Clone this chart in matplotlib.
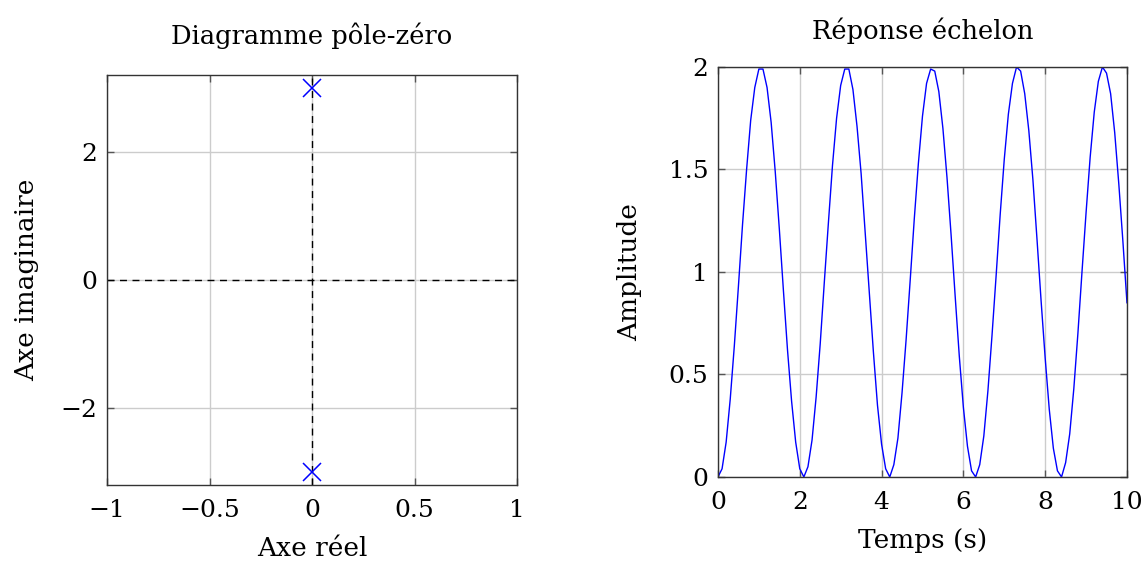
import matplotlib
matplotlib.use("Agg")
import matplotlib.pyplot as plt
import numpy as np

plt.rcParams['font.family'] = ['DejaVu Serif']
plt.rcParams['font.size'] = 18

# poles (real, imag)
pole_re = [0.0, 0.0]
pole_im = [3.0, -3.0]

# step response, every 0.1 s
t = np.arange(0, 101) * 0.1
amp = [0.00, 0.04, 0.17, 0.38, 0.64, 0.93, 1.23, 1.50, 1.74, 1.90,
       1.99, 1.99, 1.90, 1.73, 1.49, 1.21, 0.91, 0.62, 0.37, 0.17,
       0.04, 0.00, 0.05, 0.18, 0.39, 0.65, 0.95, 1.24, 1.52, 1.75,
       1.91, 1.99, 1.99, 1.89, 1.71, 1.48, 1.19, 0.90, 0.61, 0.35,
       0.16, 0.04, 0.00, 0.06, 0.19, 0.41, 0.67, 0.96, 1.26, 1.53,
       1.76, 1.92, 1.99, 1.98, 1.88, 1.70, 1.46, 1.18, 0.88, 0.59,
       0.34, 0.15, 0.03, 0.00, 0.06, 0.20, 0.42, 0.69, 0.98, 1.28,
       1.55, 1.77, 1.92, 2.00, 1.98, 1.87, 1.69, 1.45, 1.16, 0.86,
       0.58, 0.33, 0.14, 0.03, 0.00, 0.07, 0.21, 0.43, 0.70, 1.00,
       1.29, 1.56, 1.78, 1.93, 2.00, 1.97, 1.87, 1.68, 1.43, 1.15,
       0.85]

fig = plt.figure(figsize=(11.46, 5.63), dpi=100)
ax1 = fig.add_axes([0.0934, 0.1385, 0.3578, 0.7282])
ax2 = fig.add_axes([0.6265, 0.1528, 0.3569, 0.7282])

for ax in (ax1, ax2):
    ax.grid(True, color='#cccccc', lw=1)
    ax.set_axisbelow(True)
    ax.tick_params(direction='in', length=5, width=1, color='#555555',
                   top=True, right=True, pad=7, labelsize=18)
    ax.tick_params(axis='x', pad=10)
    for s in ax.spines.values():
        s.set_color('#333333')
        s.set_linewidth(1)

# pole-zero map
ax1.axhline(0, color='black', ls='--', lw=1, dashes=(5, 4))
ax1.axvline(0, color='black', ls='--', lw=1, dashes=(5, 4))
ax1.plot(pole_re, pole_im, 'x', color='blue', ms=13, mew=1.1)
ax1.set_xlim(-1, 1)
ax1.set_ylim(-3.2, 3.2)
ax1.set_xticks([-1, -0.5, 0, 0.5, 1])
ax1.set_xticklabels(['\u22121', '\u22120.5', '0', '0.5', '1'])
ax1.set_yticks([-2, 0, 2])
ax1.set_yticklabels(['\u22122', '0', '2'])
ax1.set_title('Diagramme pôle-zéro', pad=22, fontsize=18.5)
ax1.set_xlabel('Axe réel', labelpad=10, fontsize=19)
ax1.set_ylabel('Axe imaginaire', labelpad=15, fontsize=19)

# step response
ax2.plot(t, amp, color='blue', lw=1)
ax2.set_xlim(0, 10)
ax2.set_ylim(0, 2)
ax2.set_xticks([0, 2, 4, 6, 8, 10])
ax2.set_yticks([0, 0.5, 1, 1.5, 2])
ax2.set_yticklabels(['0', '0.5', '1', '1.5', '2'])
ax2.set_title('Réponse échelon', pad=20, fontsize=18.5)
ax2.set_xlabel('Temps (s)', labelpad=10, fontsize=19)
ax2.set_ylabel('Amplitude', labelpad=19, fontsize=19)

fig.savefig('out.png', dpi=100)
